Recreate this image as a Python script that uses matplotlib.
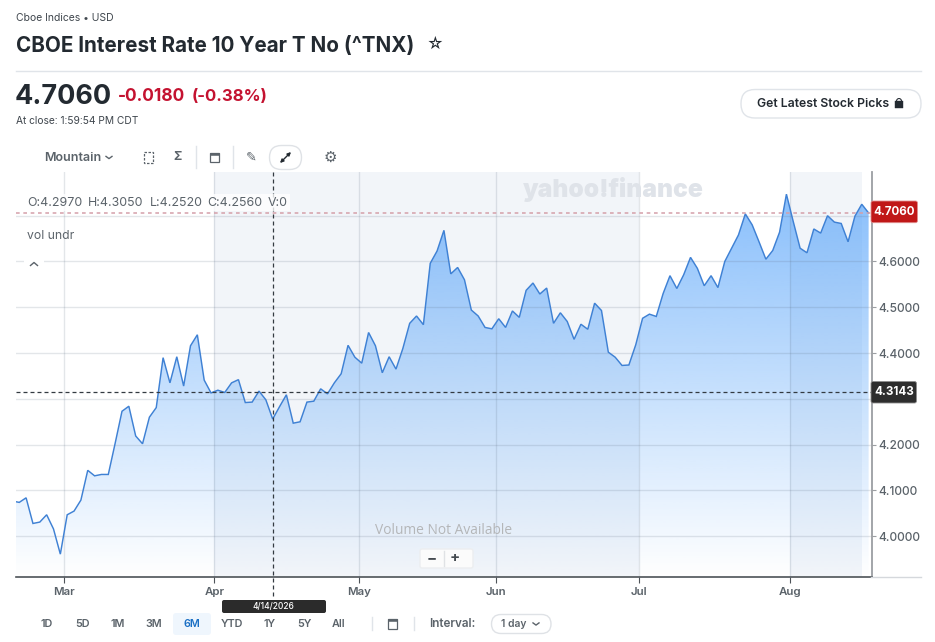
import numpy as np
import matplotlib
matplotlib.use("Agg")
import matplotlib.pyplot as plt
from matplotlib.patches import FancyBboxPatch, Rectangle, Wedge
from matplotlib.transforms import ScaledTranslation

plt.rcParams['font.family'] = ['Inter', 'DejaVu Sans']

closes = [4.077, 4.074, 4.084, 4.028, 4.031, 4.047, 4.016, 3.961, 4.047, 4.055, 4.079,
          4.144, 4.132, 4.135, 4.135, 4.203, 4.273, 4.284, 4.219, 4.202, 4.260, 4.281,
          4.390, 4.335, 4.392, 4.328, 4.416, 4.440, 4.341, 4.313, 4.319, 4.314, 4.335, 4.342,
          4.292, 4.293, 4.317, 4.298, 4.256, 4.283, 4.309, 4.247, 4.250, 4.293, 4.295,
          4.322, 4.311, 4.335, 4.355, 4.417, 4.391, 4.378, 4.445, 4.416, 4.357, 4.392, 4.365,
          4.410, 4.465, 4.481, 4.462, 4.596, 4.623, 4.668, 4.573, 4.587, 4.560, 4.494,
          4.481, 4.456, 4.453, 4.475, 4.456, 4.492, 4.478, 4.537, 4.553, 4.529, 4.542,
          4.465, 4.488, 4.469, 4.430, 4.463, 4.452, 4.509, 4.493, 4.402, 4.391, 4.373,
          4.374, 4.418, 4.476, 4.485, 4.480, 4.530, 4.569, 4.541, 4.571, 4.609, 4.585,
          4.547, 4.569, 4.543, 4.600, 4.629, 4.658, 4.704, 4.680, 4.643, 4.605, 4.624,
          4.664, 4.747, 4.687, 4.629, 4.619, 4.671, 4.662, 4.700, 4.686, 4.683, 4.643,
          4.699, 4.725, 4.706]
month_labels = ["Mar", "Apr", "May", "Jun", "Jul", "Aug"]
month_pos = [7.58, 29.5, 50.6, 70.6, 91.5, 113.5]
y_labelled = [4.0, 4.1, 4.2, 4.4, 4.5, 4.6]
y_grid = [4.0, 4.1, 4.2, 4.3, 4.4, 4.5, 4.6, 4.7]
last_price = 4.7060
cross_price = 4.3143
cross_index = 38
shaded_spans = [(29.5, 91.5), (113.5, 124.0)]
range_buttons = ["1D", "5D", "1M", "3M", "6M", "YTD", "1Y", "5Y", "All"]

W, H = 935, 642
fig = plt.figure(figsize=(W / 100, H / 100), dpi=100, facecolor="white")
L, R, T, B = 16, 871.7, 172, 577
ax = fig.add_axes([L / W, 1 - B / H, (R - L) / W, (B - T) / H])
ui = fig.add_axes([0, 0, 1, 1], zorder=5)
ui.set_xlim(0, W); ui.set_ylim(H, 0); ui.axis("off"); ui.patch.set_alpha(0)

def px(s):
    return s * 0.72

GREY = "#5b636a"; INK = "#232a31"; LINE = "#e0e4e9"
GRID = (0.35, 0.42, 0.50, 0.17)

# ---------- chart ----------
xs = np.arange(len(closes))
ax.set_facecolor("white")
for a, b in shaded_spans:
    ax.axvspan(a, b, color="#f2f5f9", lw=0, zorder=0)

poly = ax.fill_between(xs, closes, 3.9111, color="none", lw=0)
rgba = np.zeros((256, 1, 4))
rgba[..., 0] = 80 / 255; rgba[..., 1] = 160 / 255; rgba[..., 2] = 250 / 255
rgba[:, 0, 3] = np.linspace(0.68, 0.0, 256)
im = ax.imshow(rgba, extent=[0, 126, 3.9111, 4.76], aspect="auto", origin="upper",
               zorder=1, interpolation="bilinear")
im.set_clip_path(poly.get_paths()[0], transform=ax.transData)
ax.set_xlim(0.526, 125.45)
ax.set_ylim(3.9111, 4.7954)
for v in y_grid:
    ax.axhline(v, color=GRID, lw=1.0, zorder=2)
for m in month_pos:
    ax.axvline(m, color=GRID, lw=1.0, zorder=2)
ax.plot(xs, closes, color="#3f81d4", lw=1.05, zorder=3, solid_joinstyle="miter")

ax.axhline(last_price, color="#d59fa9", lw=1.1, ls=(0, (2.4, 2.4)), zorder=4)
ax.axhline(cross_price, color="#333a41", lw=0.9, ls=(0, (3.2, 2.4)), zorder=4)

for s in ("top", "left"):
    ax.spines[s].set_visible(False)
ax.spines["right"].set_color("#9b9ea2"); ax.spines["right"].set_linewidth(1.3)
ax.spines["bottom"].set_color("#4d5358"); ax.spines["bottom"].set_linewidth(1.2)
ax.yaxis.tick_right()
ax.set_yticks(y_labelled)
ax.set_yticklabels([f"{v:.4f}" for v in y_labelled], fontsize=px(12.0), color=GREY,
                   fontweight="medium")
up = ScaledTranslation(0, 1.2 / 100, fig.dpi_scale_trans)
for lab in ax.get_yticklabels():
    lab.set_transform(lab.get_transform() + up)
ax.tick_params(axis="y", length=3, width=0.8, color="#9b9ea2", pad=2)
ax.set_xticks(month_pos)
ax.set_xticklabels(month_labels, fontsize=px(11.5), color=GREY, fontweight="semibold")
ax.tick_params(axis="x", length=4, width=0.8, color="#4d5358", pad=3.2)

cross_x = L + (cross_index - 0.526) / (125.45 - 0.526) * (R - L)
ui.plot([cross_x, cross_x], [172, 599], color="#333a41", lw=0.9, ls=(0, (3.2, 2.4)))
ui.plot([871, 921], [577, 577], color="#d5d8dc", lw=1)

# ---------- helpers ----------
def rbox(x0, y0, x1, y1, r, fc, ec="none", lw=1.0, z=6):
    ui.add_patch(FancyBboxPatch((x0 + r, y0 + r), x1 - x0 - 2 * r, y1 - y0 - 2 * r,
                                boxstyle=f"round,pad={r},rounding_size={r}",
                                fc=fc, ec=ec, lw=lw, zorder=z))

def txt(x, y, s, size, color=INK, weight="normal", ha="left", z=8, **kw):
    return ui.text(x, y + 1, s, fontsize=px(size), color=color, fontweight=weight,
                   ha=ha, va="center", zorder=z, **kw)

def chevron(x, y, w=3, h=2.2, color=GREY, lw=1.0):
    ui.plot([x - w, x, x + w], [y - h / 2, y + h / 2, y - h / 2], color=color, lw=lw, zorder=8)

def calendar(x, y, color=GREY):
    ui.add_patch(Rectangle((x - 4.5, y - 4.5), 9, 9.5, fc="none", ec=color, lw=0.9, zorder=8))
    ui.add_patch(Rectangle((x - 4.5, y - 4.5), 9, 2.0, fc=color, ec=color, lw=0.4, zorder=8))

# ---------- header ----------
txt(16, 17, "Cboe Indices • USD", 10.4, "#3f464d")
txt(16, 45, "CBOE Interest Rate 10 Year T No (^TNX)", 20.65, INK, "bold")
txt(435, 43.5, "☆", 16, INK, ha="center")
ui.plot([16, 921], [70.5, 70.5], color=LINE, lw=1)
txt(15, 95.5, "4.7060", 27, INK, "bold")
txt(118, 95.5, "-0.0180", 17.3, "#c41230", "bold")
txt(192, 95.5, "(-0.38%)", 16.7, "#c41230", "bold")
txt(16, 119.5, "At close: 1:59:54 PM CDT", 10.2, "#3f464d")

rbox(741, 89.5, 921, 118, 14, "white", LINE)
txt(757, 103, "Get Latest Stock Picks", 12.25, INK, "semibold")
ui.add_patch(Rectangle((895, 101), 8, 6.5, fc=INK, ec=INK, lw=0.3, zorder=8))
ui.add_patch(Wedge((899, 101), 3, 180, 360, width=1.1, fc=INK, ec="none", zorder=8))

# ---------- toolbar ----------
txt(44, 157, "Mountain", 12.5, GREY, "semibold")
chevron(109, 157.5)
ui.add_patch(Rectangle((143.5, 151.5), 9.5, 11.5, fc="none", ec=GREY, lw=0.9, ls=(0, (2, 1.2)), zorder=8))
txt(177, 155.5, "Σ", 12, GREY, "bold", ha="center")
ui.plot([195.5, 195.5], [146, 168], color=LINE, lw=1, zorder=8)
calendar(214, 157)
ui.plot([232.5, 232.5], [146, 168], color=LINE, lw=1, zorder=8)
txt(251, 156.5, "✎", 13, GREY, ha="center")
rbox(269.5, 145.5, 301.5, 169.5, 12, "white", "#dfe2e6")
ui.annotate("", xy=(291, 152), xytext=(280, 163), zorder=8,
            arrowprops=dict(arrowstyle="<|-|>,head_width=0.1,head_length=0.2", color=INK, lw=1.0,
                            shrinkA=0, shrinkB=0))
txt(330, 156.5, "⚙", 15, GREY, ha="center")

# ---------- overlays on chart ----------
ohlc = [(27, "O:4.2970"), (87.5, "H:4.3050"), (149.5, "L:4.2520"), (207, "C:4.2560"), (267.5, "V:0")]
ui.add_patch(Rectangle((24, 194), 266, 17, fc="white", ec="none", alpha=0.78, zorder=6))
for x, s in ohlc:
    txt(x, 201.5, s, 12.4, GREY)
txt(27, 234.8, "vol undr", 12.2, GREY)
ui.add_patch(Rectangle((24, 255), 20, 16, fc="white", ec="none", zorder=6))
chevron(34, 264, w=3.5, h=-3.0, color=GREY)

txt(613, 188, "yahoo!finance", 24.6, "#dfe3e9", "black", ha="center", z=2.5)
txt(443.5, 529.5, "Volume Not Available", 13.7, "#b4b6b8", ha="center",
    family=["Open Sans", "DejaVu Sans"])

rbox(420, 549, 473, 568, 2, "#fbfbfb", "#eceef0")
ui.plot([443.5, 443.5], [551, 566], color="#e0e2e5", lw=1, zorder=7)
txt(432, 557, "−", 15, "#444a50", "bold", ha="center")
txt(455, 557, "+", 15, "#444a50", "bold", ha="center")

# ---------- price tags ----------
rbox(871, 201, 917.5, 222.7, 2, "#c01818", "#e08f8f", 0.6)
txt(894.5, 211, "4.7060", 11.6, "white", "bold", ha="center")
rbox(871, 381.5, 916.5, 403, 2, "#2d2d2d", "#8d8d8d", 0.6)
txt(894, 391, "4.3143", 11.6, "white", "bold", ha="center")
rbox(222, 600, 326, 613, 2, "#2b2b2b")
txt(273.7, 605.5, "4/14/2026", 8.4, "white", "medium", ha="center")

# ---------- range bar ----------
range_x = [47, 82, 118, 154, 192, 232, 270, 304, 339]
rbox(173, 613, 211, 635, 3, "#eff6fd")
for x, s in zip(range_x, range_buttons):
    active = s == "6M"
    txt(x, 622.8, s, 10.8, "#1a6fc4" if active else GREY, "semibold", ha="center")
ui.plot([371.5, 371.5], [617, 630], color=LINE, lw=1, zorder=8)
calendar(392.5, 623.5)
ui.plot([413.5, 413.5], [617, 630], color=LINE, lw=1, zorder=8)
txt(429, 622.8, "Interval:", 11.7, GREY, "semibold")
rbox(491.5, 614.5, 551, 633.5, 9.5, "white", "#dfe2e6")
txt(501, 622.8, "1 day", 10.3, GREY, "semibold")
chevron(536, 624, color=GREY)

fig.savefig("out.png", dpi=100, facecolor="white")
